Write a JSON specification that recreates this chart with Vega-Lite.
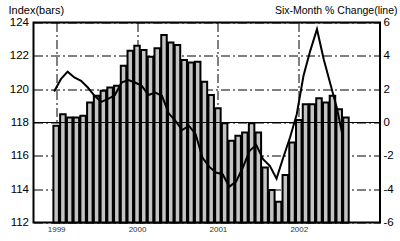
{
  "$schema": "https://vega.github.io/schema/vega-lite/v6.json",
  "width": 346.5,
  "height": 200,
  "autosize": "none",
  "padding": {"left": 33.5, "top": 22.5, "right": 20, "bottom": 18.5},
  "background": "white",
  "config": {
    "font": "Liberation Sans",
    "view": {"stroke": "black", "strokeWidth": 2}
  },
  "datasets": {
    "bars": [
      {"m": 0, "index": 117.8}, {"m": 1, "index": 118.5}, {"m": 2, "index": 118.3}, {"m": 3, "index": 118.3},
      {"m": 4, "index": 118.4}, {"m": 5, "index": 119.2}, {"m": 6, "index": 119.6}, {"m": 7, "index": 119.9},
      {"m": 8, "index": 120.1}, {"m": 9, "index": 120.2}, {"m": 10, "index": 121.4}, {"m": 11, "index": 122.3},
      {"m": 12, "index": 122.6}, {"m": 13, "index": 122.35}, {"m": 14, "index": 121.95}, {"m": 15, "index": 122.45},
      {"m": 16, "index": 123.25}, {"m": 17, "index": 122.8}, {"m": 18, "index": 122.65}, {"m": 19, "index": 121.75},
      {"m": 20, "index": 121.6}, {"m": 21, "index": 121.65}, {"m": 22, "index": 120.45}, {"m": 23, "index": 119.65},
      {"m": 24, "index": 118.85}, {"m": 25, "index": 117.95}, {"m": 26, "index": 116.9}, {"m": 27, "index": 117.2},
      {"m": 28, "index": 117.4}, {"m": 29, "index": 117.95}, {"m": 30, "index": 117.4}, {"m": 31, "index": 115.3},
      {"m": 32, "index": 113.95}, {"m": 33, "index": 113.25}, {"m": 34, "index": 114.85}, {"m": 35, "index": 116.8},
      {"m": 36, "index": 118.15}, {"m": 37, "index": 119.1}, {"m": 38, "index": 119.1}, {"m": 39, "index": 119.45},
      {"m": 40, "index": 119.2}, {"m": 41, "index": 119.6}, {"m": 42, "index": 118.8}, {"m": 43, "index": 118.3}
    ],
    "line": [
      {"t": -0.3, "chg": 1.86}, {"t": 0.7, "chg": 2.6}, {"t": 1.7, "chg": 3.05}, {"t": 2.7, "chg": 2.7},
      {"t": 3.7, "chg": 2.5}, {"t": 4.7, "chg": 2.1}, {"t": 5.7, "chg": 1.6}, {"t": 6.7, "chg": 1.24},
      {"t": 7.7, "chg": 1.42}, {"t": 8.7, "chg": 1.63}, {"t": 9.7, "chg": 2.4}, {"t": 10.7, "chg": 2.55},
      {"t": 11.7, "chg": 2.4}, {"t": 12.7, "chg": 2.2}, {"t": 13.7, "chg": 1.65}, {"t": 14.7, "chg": 1.8},
      {"t": 15.7, "chg": 1.6}, {"t": 16.7, "chg": 0.55}, {"t": 17.7, "chg": 0.1}, {"t": 18.7, "chg": -0.45},
      {"t": 19.7, "chg": -0.2}, {"t": 20.7, "chg": -0.7}, {"t": 21.7, "chg": -2.1}, {"t": 22.7, "chg": -2.65},
      {"t": 23.7, "chg": -3.0}, {"t": 24.7, "chg": -3.1}, {"t": 25.7, "chg": -3.85}, {"t": 26.7, "chg": -3.55},
      {"t": 27.7, "chg": -2.7}, {"t": 28.7, "chg": -1.7}, {"t": 29.7, "chg": -1.35}, {"t": 30.7, "chg": -2.2},
      {"t": 31.7, "chg": -2.6}, {"t": 32.7, "chg": -3.37}, {"t": 33.7, "chg": -2.1}, {"t": 34.7, "chg": -0.9},
      {"t": 35.7, "chg": 0.5}, {"t": 36.7, "chg": 2.8}, {"t": 37.7, "chg": 4.3}, {"t": 38.7, "chg": 5.6},
      {"t": 39.7, "chg": 3.8}, {"t": 40.7, "chg": 2.3}, {"t": 41.7, "chg": 0.8}, {"t": 42.5, "chg": -0.8}
    ],
    "ref": [{"level": 118}]
  },
  "layer": [
    {
      "data": {"name": "bars"},
      "mark": {"type": "bar", "size": 5.5, "fill": "#c4c4c4", "stroke": "black", "strokeWidth": 2},
      "encoding": {
        "x": {
          "field": "m", "type": "quantitative",
          "scale": {"domain": [-2.62, 47.31], "nice": false, "zero": false},
          "axis": {
            "values": [0, 12, 24, 36],
            "labelExpr": "'' + (1999 + datum.value / 12)",
            "title": null, "domain": false, "ticks": false,
            "labelFontSize": 8, "labelColor": "#333", "labelPadding": 3,
            "grid": true, "gridColor": "black", "gridWidth": 1, "gridDash": [9, 3, 2, 3]
          }
        },
        "y": {
          "field": "index", "type": "quantitative",
          "scale": {"domain": [112, 124], "nice": false, "zero": false},
          "axis": {
            "orient": "left", "values": [112, 114, 116, 118, 120, 122, 124],
            "title": "Index(bars)", "titleAngle": 0, "titleAlign": "left", "titleBaseline": "alphabetic",
            "titleX": -25.5, "titleY": -9.5, "titleFontSize": 11, "titleFontWeight": "normal", "titleColor": "black",
            "domain": false, "ticks": false, "labelFontSize": 11.5, "labelColor": "black", "labelPadding": 5,
            "grid": true, "gridColor": "black", "gridWidth": 1, "gridDash": [9, 3, 2, 3]
          }
        },
        "y2": {"datum": 112}
      }
    },
    {
      "data": {"name": "ref"},
      "mark": {"type": "rule", "color": "black", "strokeWidth": 1},
      "encoding": {
        "y": {"field": "level", "type": "quantitative", "scale": {"domain": [112, 124], "nice": false, "zero": false}, "axis": null}
      }
    },
    {
      "data": {"name": "line"},
      "mark": {"type": "line", "color": "black", "strokeWidth": 2},
      "encoding": {
        "x": {"field": "t", "type": "quantitative"},
        "y": {
          "field": "chg", "type": "quantitative",
          "scale": {"domain": [-6, 6], "nice": false, "zero": false},
          "axis": {
            "orient": "right", "values": [-6, -4, -2, 0, 2, 4, 6],
            "labelExpr": "'' + datum.value",
            "title": "Six-Month % Change(line)", "titleAngle": 0, "titleAlign": "right", "titleBaseline": "alphabetic",
            "titleX": 17, "titleY": -9.5, "titleFontSize": 10.5, "titleFontWeight": "normal", "titleColor": "black",
            "domain": false, "ticks": false, "labelFontSize": 11.5, "labelColor": "black", "labelPadding": 3,
            "grid": false
          }
        }
      }
    }
  ],
  "resolve": {"scale": {"y": "independent"}}
}
